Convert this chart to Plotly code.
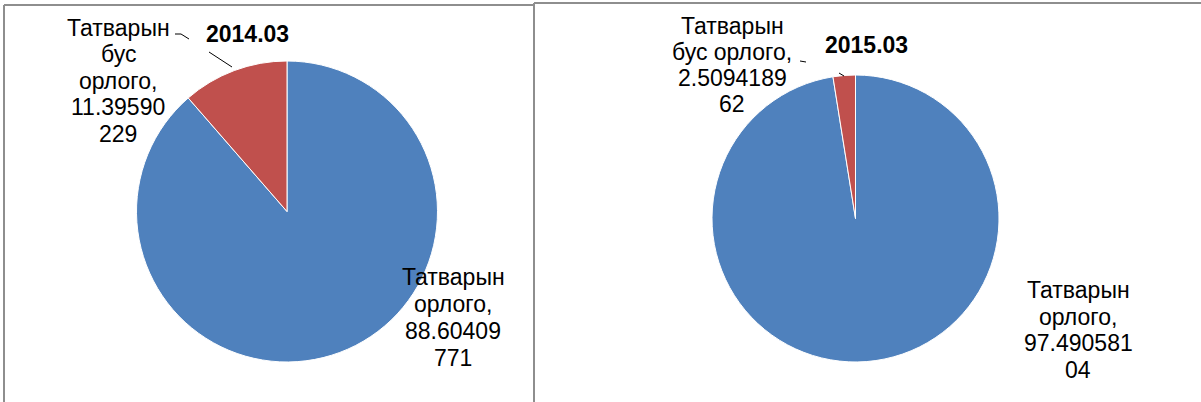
import plotly.graph_objects as go

W, H = 1201, 402

CATEGORIES = ["Татварын орлого", "Татварын бус орлого"]
VALUES_2014 = [88.60409771, 11.39590229]
VALUES_2015 = [97.49058104, 2.509418962]
TITLES = ["2014.03", "2015.03"]

COLOURS = ["#4F81BD", "#C0504D"]
FONT = "Arial, Liberation Sans, sans-serif"


def px(x, y):
    """pixel position -> paper coords"""
    return x / W, 1 - y / H


def pie_domain(cx, cy, r):
    x0, y0 = px(cx - r, cy + r)
    x1, y1 = px(cx + r, cy - r)
    return dict(x=[x0, x1], y=[y0, y1])


fig = go.Figure()

# Pies
for vals, dom in [(VALUES_2014, pie_domain(287, 211.5, 150.5)),
                  (VALUES_2015, pie_domain(855.5, 218.5, 143.5))]:
    fig.add_trace(go.Pie(labels=CATEGORIES, values=vals, sort=False,
                         direction="clockwise", rotation=0,
                         marker=dict(colors=COLOURS,
                                     line=dict(color="white", width=1)),
                         textinfo="none", hoverinfo="label+value",
                         showlegend=False, domain=dom))


def wrap_label(name_lines, value, decimals, split):
    s = f"{value:.{decimals}f}"
    return name_lines + [s[:split], s[split:]]


# data labels (Excel style wrapping)
labels = [
    (wrap_label(["Татварын", "бус", "орлого,"], VALUES_2014[1], 8, 8), 118, 28, 26.5),
    (wrap_label(["Татварын", "орлого,"], VALUES_2014[0], 8, 8), 453, 277, 27),
    (wrap_label(["Татварын", "бус орлого,"], VALUES_2015[1], 9, 9), 732, 26, 26),
    (wrap_label(["Татварын", "орлого,"], VALUES_2015[0], 8, 9), 1078, 290, 26.5),
]

annotations = []
for lines, cx, y0, pitch in labels:
    for i, line in enumerate(lines):
        x, y = px(cx, y0 + i * pitch)
        annotations.append(dict(x=x, y=y, xref="paper", yref="paper",
                                text=line, showarrow=False,
                                xanchor="center", yanchor="middle",
                                font=dict(family=FONT, size=23, color="black")))

for title, (cx, cy) in zip(TITLES, [(247, 34), (866, 45)]):
    x, y = px(cx, cy)
    annotations.append(dict(x=x, y=y, xref="paper", yref="paper",
                            text=f"<b>{title}</b>", showarrow=False,
                            xanchor="center", yanchor="middle",
                            font=dict(family=FONT, size=23, color="black")))


def line(x0, y0, x1, y1, color="black", width=1):
    a, b = px(x0, y0)
    c, d = px(x1, y1)
    return dict(type="line", xref="paper", yref="paper", x0=a, y0=b, x1=c, y1=d,
                line=dict(color=color, width=width))


shapes = [
    # panel borders
    line(4, 5, 534, 5, "#8e8e8e", 2),
    line(4, 5, 4, 402, "#8e8e8e", 2),
    line(534, 3, 1201, 3, "#8e8e8e", 2),
    line(534, 3, 534, 402, "#8e8e8e", 2),
    # leader lines
    line(175, 34, 181, 34),
    line(181, 34, 189, 39),
    line(209, 52, 232, 67),
    line(800, 61, 806, 62),
    line(839, 73, 844, 76),
]

fig.update_layout(width=W, height=H, margin=dict(l=0, r=0, t=0, b=0),
                  paper_bgcolor="white", plot_bgcolor="white",
                  annotations=annotations, shapes=shapes)

# drop the default page margin so the figure sits at the window corner
fig.write_html("out.html", config={"displayModeBar": False},
               post_script="document.body.style.margin='0';")
